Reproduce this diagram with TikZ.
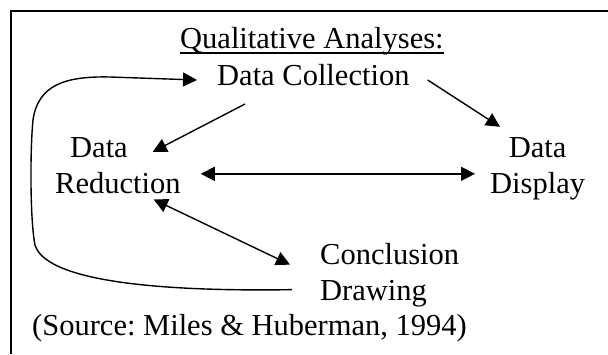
\documentclass[tikz,border=0pt]{standalone}
\usepackage{fontspec}
\setmainfont{Liberation Serif}
\usetikzlibrary{arrows.meta}
\frenchspacing

\begin{document}
\begin{tikzpicture}[x=1pt,y=-1pt,>={Triangle[length=14pt,width=14pt]},
lbl/.style={inner sep=0pt,anchor=base west,font=\fontsize{30.5}{36}\selectfont},
conn/.style={line width=1.4pt}]
\useasboundingbox(0,0)rectangle(608,354);
\draw[line width=1.4pt](608,11)-|(11,354);
\node[lbl](title)at(180,48){Qualitative Analyses:};
\draw[line width=1.3pt]([yshift=-5pt]title.base west)--([yshift=-5pt]title.base east);
\node[lbl](coll)at(217,85){Data Collection};
\node[lbl,align=left](red)at(55,193){\hspace*{15pt}Data\\Reduction};
\node[lbl,align=center](disp)at(490,193){Data\\Display};
\node[lbl,align=left](conc)at(320,300){Conclusion\\Drawing};
\node[lbl](src)at(32,335){(Source: Miles \& Huberman, 1994)};
\draw[conn,->]([shift={(28,19)}]coll.base west)--([shift={(-28,15)}]red.north east);
\draw[conn,->]([shift={(18,-5)}]coll.base east)--([shift={(10,-10)}]disp.north west);
\draw[conn,<->]([shift={(20,37)}]red.north east)--([shift={(-15,37)}]disp.north west);
\draw[conn,<->]([shift={(-27,6)}]red.south east)--([shift={(-30,22)}]conc.north west);
\draw[conn,->]([shift={(-28,47)}]conc.north west)
..controls(140,292)and(45,278)..(35,245)
..controls(30,220)and(30,150)..(33,120)
..controls(38,85)and(65,76)..(110,77)
--([shift={(-20,-5)}]coll.base west);
\end{tikzpicture}
\end{document}
